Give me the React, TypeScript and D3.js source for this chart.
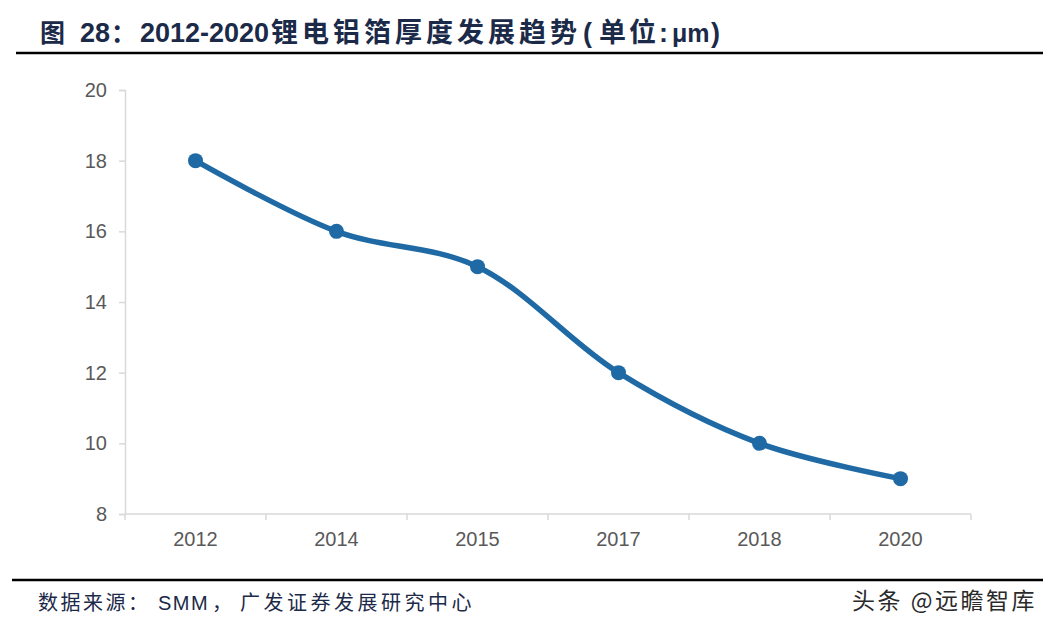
import React, { useEffect, useRef } from 'react';
import * as d3 from 'd3';

const years = ['2012', '2014', '2015', '2017', '2018', '2020'];
const thickness = [18, 16, 15, 12, 10, 9];
const yTicks = [8, 10, 12, 14, 16, 18, 20];

const W = 1061;
const H = 632;

const CJK = '"Noto Sans CJK SC", sans-serif';
const LATIN = '"Liberation Sans", Arial, sans-serif';

const App: React.FC = () => {
  const svgRef = useRef<SVGSVGElement | null>(null);

  useEffect(() => {
    const svgEl = svgRef.current;
    if (!svgEl) return;
    const svg = d3.select(svgEl);
    svg.selectAll('*').remove();

    const left = 125;
    const right = 971;
    const top = 90;
    const bottom = 514;

    const x = d3.scaleBand<string>().domain(years).range([left, right]).padding(0);
    const y = d3.scaleLinear().domain([8, 20]).range([bottom, top]);

    // Title, pieced together so the mixed fonts land where the original has them
    const title = svg.append('text')
      .attr('y', 42)
      .attr('font-weight', 'bold')
      .attr('fill', '#1b2a48');
    const parts: { t: string; x: number; font: string; size: number; ls?: number }[] = [
      { t: '图', x: 40, font: CJK, size: 25 },
      { t: '28', x: 80, font: LATIN, size: 27 },
      { t: '：', x: 111, font: CJK, size: 25 },
      { t: '2012-2020', x: 140, font: LATIN, size: 27 },
      { t: '锂电铝箔厚度发展趋势', x: 271, font: CJK, size: 27, ls: 4 },
      { t: '(', x: 583, font: LATIN, size: 27 },
      { t: '单位', x: 599, font: CJK, size: 27, ls: 3 },
      { t: ':', x: 659, font: LATIN, size: 27 },
      { t: 'μm', x: 672, font: LATIN, size: 25 },
      { t: ')', x: 711, font: LATIN, size: 27 },
    ];
    parts.forEach((p) => {
      title.append('tspan')
        .attr('x', p.x)
        .attr('font-family', p.font)
        .attr('font-size', p.size)
        .attr('letter-spacing', p.ls ?? 0)
        .text(p.t);
    });

    svg.append('line')
      .attr('x1', 16).attr('x2', 1043)
      .attr('y1', 53).attr('y2', 53)
      .attr('stroke', '#000').attr('stroke-width', 2.5);

    // Y axis
    const yAxis = svg.append('g')
      .attr('transform', `translate(${left},0)`)
      .call(d3.axisLeft(y).tickValues(yTicks).tickSize(6).tickPadding(12).tickFormat(d3.format('d')));
    yAxis.selectAll('path,line').attr('stroke', '#d9d9d9').attr('stroke-width', 1.5);
    yAxis.selectAll('text')
      .attr('fill', '#595959')
      .attr('font-size', 20)
      .attr('font-family', LATIN);

    // X axis with ticks at band boundaries
    const xg = svg.append('g').attr('transform', `translate(0,${bottom})`);
    xg.append('line')
      .attr('x1', left).attr('x2', right)
      .attr('stroke', '#d9d9d9').attr('stroke-width', 1.5);
    const boundaries = years.map((yr) => x(yr) as number).concat([right]);
    xg.selectAll('line.tick')
      .data(boundaries)
      .join('line')
      .attr('class', 'tick')
      .attr('x1', (d) => d).attr('x2', (d) => d)
      .attr('y1', 0).attr('y2', 6)
      .attr('stroke', '#d9d9d9').attr('stroke-width', 1.5);
    xg.selectAll('text')
      .data(years)
      .join('text')
      .attr('x', (d) => (x(d) as number) + x.bandwidth() / 2)
      .attr('y', 32)
      .attr('text-anchor', 'middle')
      .attr('fill', '#595959')
      .attr('font-size', 20)
      .attr('font-family', LATIN)
      .text((d) => d);

    // Smoothed line with markers
    const pts: [number, number][] = years.map((yr, i) => [
      (x(yr) as number) + x.bandwidth() / 2,
      y(thickness[i]),
    ]);
    const line = d3.line().curve(d3.curveCatmullRom.alpha(0.5));
    svg.append('path')
      .attr('d', line(pts) as string)
      .attr('fill', 'none')
      .attr('stroke', '#1f6aa5')
      .attr('stroke-width', 5.5)
      .attr('stroke-linecap', 'round');
    svg.selectAll('circle.pt')
      .data(pts)
      .join('circle')
      .attr('class', 'pt')
      .attr('cx', (d) => d[0])
      .attr('cy', (d) => d[1])
      .attr('r', 7.5)
      .attr('fill', '#1f6aa5');

    // Footer
    svg.append('line')
      .attr('x1', 12).attr('x2', 1043)
      .attr('y1', 580).attr('y2', 580)
      .attr('stroke', '#000').attr('stroke-width', 2.5);

    const src = svg.append('text')
      .attr('y', 610)
      .attr('fill', '#1b2a48');
    const srcParts: { t: string; x: number; font: string; ls: number }[] = [
      { t: '数据来源：', x: 38, font: CJK, ls: 2.5 },
      { t: 'SMM', x: 158, font: LATIN, ls: 1.5 },
      { t: '，', x: 212, font: CJK, ls: 0 },
      { t: '广发证券发展研究中心', x: 240, font: CJK, ls: 3.5 },
    ];
    srcParts.forEach((p) => {
      src.append('tspan')
        .attr('x', p.x)
        .attr('font-family', p.font)
        .attr('font-size', 20)
        .attr('letter-spacing', p.ls)
        .text(p.t);
    });

    svg.append('text')
      .attr('x', 852)
      .attr('y', 609)
      .attr('font-family', CJK)
      .attr('font-size', 23)
      .attr('letter-spacing', 2.5)
      .attr('fill', '#2a2a2a')
      .text('头条 @远瞻智库');
  }, []);

  return (
    <svg
      ref={svgRef}
      width={W}
      height={H}
      viewBox={`0 0 ${W} ${H}`}
      style={{ position: 'absolute', left: 0, top: 0, background: '#fff' }}
    />
  );
};

export default App;
